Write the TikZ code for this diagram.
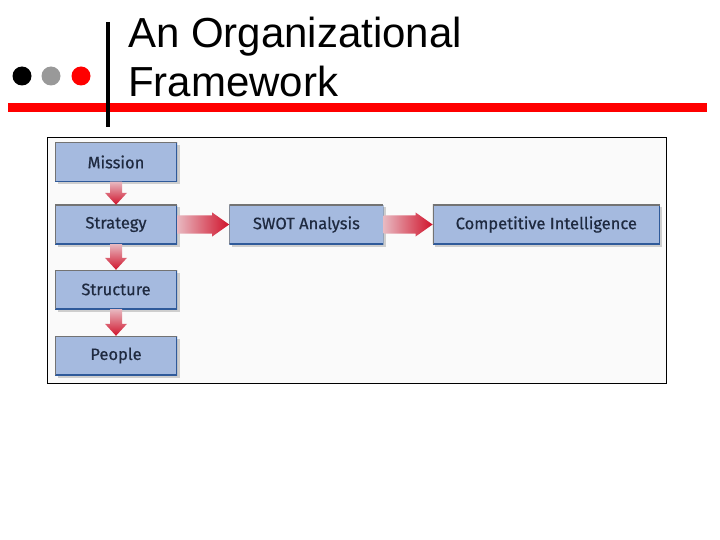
\documentclass[tikz,border=0pt]{standalone}
\usepackage{fontspec}
\setmainfont{Liberation Sans}
\newfontfamily\boxfont{Fira Sans}[FakeBold=0.6]
\usetikzlibrary{calc,positioning,shadows}

\definecolor{boxblue}{HTML}{A5BADF}
\definecolor{boxedge}{HTML}{2F5A9A}
\definecolor{boxtext}{HTML}{1F2A40}
\definecolor{flowred}{HTML}{D0142C}
\definecolor{flowpink}{HTML}{E8B8C0}

% vertical and horizontal flow arrows between two named boxes
\newcommand{\vflow}[2]{%
  \shade[top color=flowpink, bottom color=flowred]
    ($(#1.south)+(-6,0)$) -- ($(#2.north)+(-6,-12)$) -- ($(#2.north)+(-11,-12)$)
    -- (#2.north) -- ($(#2.north)+(11,-12)$) -- ($(#2.north)+(6,-12)$)
    -- ($(#1.south)+(6,0)$) -- cycle;}
\newcommand{\hflow}[2]{%
  \shade[left color=flowpink, right color=flowred]
    ($(#1.east)+(0,-9)$) -- ($(#2.west)+(-17,-9)$) -- ($(#2.west)+(-17,-12)$)
    -- (#2.west) -- ($(#2.west)+(-17,12)$) -- ($(#2.west)+(-17,9)$)
    -- ($(#1.east)+(0,9)$) -- cycle;}

\begin{document}
\begin{tikzpicture}[x=1pt, y=-1pt,
  stage/.style={fill=boxblue, minimum height=39pt, inner sep=0pt,
    font=\boxfont\fontsize{16.5}{18}\selectfont, text=boxtext,
    drop shadow={shadow xshift=2.5pt, shadow yshift=-2.5pt, fill=black!30, opacity=.6},
    path picture={
      \draw[boxedge, line width=1.5pt]
        (path picture bounding box.north east) -- (path picture bounding box.south east)
        -- (path picture bounding box.south west);
      \draw[black!55, line width=2pt]
        (path picture bounding box.south west) -- (path picture bounding box.north west)
        -- (path picture bounding box.north east);}},
  dot/.style={circle, inner sep=0pt, minimum size=19pt}]
\path[use as bounding box] (0,0) rectangle (720,540);

% title bar
\node[dot, fill=black] (d1) at (22,76) {};
\node[dot, fill=black!40] (d2) at (51,76) {};
\node[dot, fill=red] (d3) at (81,76) {};
\fill[red] (8,103) rectangle (707,112);
\draw[line width=4pt] (108,22) -- (108,127);
\node[anchor=base west, inner sep=0pt, font=\fontsize{42}{48}\selectfont] (title1) at (128,48) {An Organizational};
\node[anchor=base west, inner sep=0pt, font=\fontsize{42}{48}\selectfont] (title2) at (128,97) {Framework};

% framework
\draw[fill=black!2, line width=0.8pt] (47,137) rectangle (666,383);
\node[stage, minimum width=122pt] (mission) at (116,162) {Mission};
\node[stage, minimum width=122pt] (strategy) at (116,224.5) {Strategy};
\node[stage, minimum width=122pt] (structure) at (116,289.5) {Structure};
\node[stage, minimum width=122pt] (people) at (116,355.5) {People};
\node[stage, minimum width=154pt, right=52pt of strategy] (swot) {SWOT Analysis};
\node[stage, minimum width=227pt, right=49pt of swot] (ci) {Competitive Intelligence};

\vflow{mission}{strategy}
\vflow{strategy}{structure}
\vflow{structure}{people}
\hflow{strategy}{swot}
\hflow{swot}{ci}
\end{tikzpicture}
\end{document}
